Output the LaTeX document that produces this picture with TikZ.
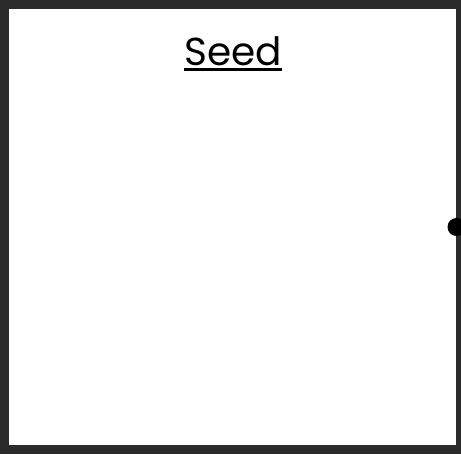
\documentclass[tikz,border=0pt]{standalone}
\usepackage{fontspec}
\setmainfont{Poppins}
\usetikzlibrary{positioning}

\definecolor{frame}{HTML}{2B2B2B}

\tikzset{
  block/.style={draw=frame, line width=9pt, fill=white, inner sep=0pt,
    minimum width=456pt, minimum height=445pt},
  title/.style={font=\fontsize{39}{47}\selectfont, inner sep=0pt, anchor=base},
  port/.style={fill=black}
}

\begin{document}
\begin{tikzpicture}[x=1pt, y=1pt]
      \useasboundingbox (0,0) rectangle (461,455);

      % Block
      \node[block] (seed) at (232.5,228) {};

      % Heading, underlined
      \node[title] (name) at (233,389) {Seed};
      \draw[line width=3pt] ([yshift=-4pt]name.base west) -- ([yshift=-4pt]name.base east);

      % Output port on the right side
      \coordinate (out) at ([xshift=-8.5pt]seed.east);
      \fill[port] (out) circle (9pt);
\end{tikzpicture}
\end{document}
